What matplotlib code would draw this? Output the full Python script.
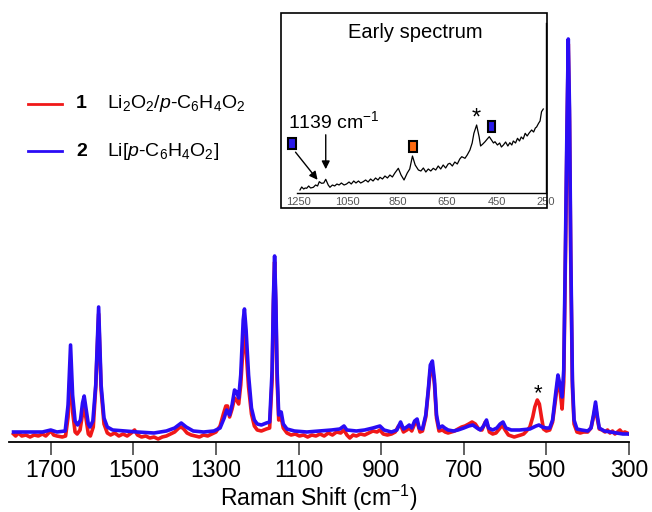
import numpy as np
import matplotlib
matplotlib.use("Agg")
import matplotlib.pyplot as plt
from matplotlib.patches import Rectangle
from matplotlib.lines import Line2D

plt.rcParams['font.family'] = ['Liberation Sans', 'DejaVu Sans']
plt.rcParams['mathtext.fontset'] = 'custom'
plt.rcParams['mathtext.rm'] = 'Liberation Sans'
plt.rcParams['mathtext.it'] = 'Liberation Sans:italic'
plt.rcParams['mathtext.bf'] = 'Liberation Sans:bold'

# ---- main spectra (Raman shift in cm-1, intensity in arb. units) ----
blue_wn = [1790, 1760, 1720, 1700, 1685, 1665, 1658, 1652, 1647, 1641, 1635, 1628,
           1623, 1619, 1614, 1609, 1605, 1598, 1591, 1584, 1578, 1571, 1563, 1550,
           1520, 1490, 1450, 1420, 1400, 1384, 1372, 1355, 1330, 1305, 1290, 1280,
           1274, 1267, 1261, 1255, 1250, 1245, 1240, 1234, 1231, 1227, 1221, 1214,
           1207, 1200, 1190, 1178, 1170, 1164, 1161, 1158, 1155, 1152, 1148, 1142,
           1137, 1128, 1110, 1080, 1050, 1020, 1000, 990, 983, 960, 940, 920,
           903, 893, 875, 862, 853, 846, 838, 832, 826, 819, 813, 808,
           800, 792, 786, 781, 776, 771, 766, 760, 752, 746, 738, 725,
           714, 700, 688, 678, 668, 660, 652, 645, 640, 630, 620, 612,
           605, 598, 585, 565, 540, 525, 518, 510, 500, 492, 485, 478,
           472, 467, 462, 458, 454, 450, 447, 444, 441, 437, 433, 426,
           415, 400, 392, 386, 381, 377, 372, 360, 345, 330, 315, 305, 300]
blue_int = [10, 10, 10, 12, 10, 11, 37, 97, 47, 21, 17, 22,
            39, 46, 32, 18, 15, 21, 57, 135, 57, 24, 15, 12,
            11, 10, 9, 11, 14, 19, 15, 11, 10, 11, 14, 24,
            32, 27, 37, 52, 50, 44, 67, 122, 133, 112, 67, 34,
            22, 18, 17, 19, 20, 72, 142, 186, 142, 72, 27, 30,
            18, 13, 11, 10, 11, 12, 13, 16, 12, 11, 12, 14,
            16, 12, 10, 12, 20, 13, 15, 17, 14, 21, 23, 14,
            13, 27, 52, 77, 81, 62, 27, 14, 16, 14, 12, 11,
            12, 14, 16, 17, 14, 12, 16, 22, 14, 12, 14, 18,
            20, 14, 12, 12, 13, 16, 17, 15, 14, 14, 22, 47,
            67, 57, 45, 72, 192, 322, 403, 332, 192, 62, 22, 13,
            12, 11, 14, 27, 40, 27, 14, 11, 10, 9, 8, 8, 8]

red_wn = [1790, 1785, 1778, 1770, 1760, 1750, 1740, 1730, 1720, 1712, 1705, 1699,
          1693, 1685, 1672, 1664, 1658, 1652, 1647, 1641, 1636, 1629, 1623, 1619,
          1614, 1609, 1604, 1597, 1591, 1584, 1578, 1571, 1563, 1555, 1545, 1535,
          1525, 1515, 1505, 1497, 1490, 1480, 1470, 1460, 1450, 1440, 1430, 1420,
          1410, 1400, 1390, 1384, 1378, 1370, 1360, 1350, 1340, 1330, 1320, 1310,
          1300, 1290, 1282, 1276, 1272, 1267, 1261, 1255, 1250, 1245, 1240, 1234,
          1231, 1227, 1221, 1214, 1207, 1200, 1190, 1178, 1170, 1164, 1161, 1158,
          1155, 1152, 1148, 1142, 1137, 1128, 1118, 1108, 1098, 1088, 1078, 1068,
          1058, 1048, 1038, 1028, 1018, 1008, 998, 990, 983, 976, 968, 960,
          950, 940, 930, 920, 910, 903, 895, 885, 875, 866, 858, 853,
          846, 838, 832, 826, 819, 813, 806, 800, 792, 786, 781, 776,
          771, 766, 760, 752, 745, 738, 730, 722, 714, 705, 697, 688,
          680, 672, 664, 656, 648, 644, 638, 630, 622, 614, 607, 600,
          592, 585, 578, 570, 562, 555, 548, 540, 533, 528, 522, 517,
          512, 507, 500, 492, 485, 478, 472, 467, 462, 458, 454, 450,
          447, 444, 441, 437, 433, 426, 418, 410, 400, 392, 386, 381,
          377, 372, 365, 358, 352, 346, 340, 334, 328, 322, 316, 310, 304, 300]
red_int = [8, 6, 9, 6, 7, 5, 7, 6, 8, 6, 9, 11,
           7, 6, 5, 6, 25, 78, 30, 10, 8, 12, 28, 36,
           22, 8, 6, 15, 55, 128, 52, 18, 9, 7, 9, 6,
           8, 6, 9, 12, 7, 5, 6, 4, 5, 3, 5, 6,
           8, 10, 14, 15, 13, 9, 7, 6, 5, 7, 6, 8,
           10, 16, 28, 36, 36, 25, 33, 44, 42, 38, 57, 98,
           107, 92, 55, 28, 16, 12, 11, 13, 14, 62, 135, 180,
           135, 62, 22, 24, 14, 9, 7, 8, 6, 7, 5, 7,
           6, 8, 6, 9, 7, 10, 9, 12, 7, 4, 7, 6,
           8, 7, 9, 11, 10, 12, 8, 7, 8, 10, 16, 17,
           10, 12, 14, 11, 18, 20, 10, 11, 25, 50, 72, 75,
           58, 24, 11, 12, 10, 9, 10, 11, 13, 15, 16, 18,
           20, 18, 13, 12, 20, 19, 10, 8, 9, 13, 17, 12,
           7, 6, 5, 6, 7, 8, 11, 15, 25, 35, 42, 38,
           25, 13, 11, 12, 20, 42, 62, 52, 33, 60, 180, 310,
           398, 320, 180, 55, 18, 10, 9, 10, 10, 14, 25, 36,
           24, 13, 12, 10, 12, 9, 11, 8, 10, 12, 9, 10, 9, 8]

xticks = [1700, 1500, 1300, 1100, 900, 700, 500, 300]

# ---- inset: early spectrum ----
early_wn = [1243, 1236, 1228, 1222, 1216, 1208, 1200, 1189, 1180, 1172, 1165, 1156,
            1147, 1139, 1129, 1122, 1112, 1103, 1094, 1085, 1076, 1065, 1055, 1045,
            1036, 1026, 1017, 1007, 998, 988, 978, 968, 958, 948, 938, 928,
            920, 910, 900, 890, 880, 870, 860, 846, 835, 823, 810, 800,
            789, 778, 765, 755, 745, 735, 725, 715, 705, 695, 685, 675,
            665, 655, 645, 638, 628, 618, 608, 598, 590, 577, 568, 557,
            548, 541, 530, 520, 514, 505, 496, 487, 479, 470, 462, 456,
            446, 437, 430, 422, 413, 404, 396, 388, 382, 373, 365, 357,
            350, 342, 334, 326, 318, 308, 300, 293, 288, 280, 274, 268, 261]
early_int = [3, 6, 4, 5, 4.7, 7, 5, 5.7, 8, 7, 11.3, 9.7,
             10, 13.7, 8, 5.7, 8, 7, 9, 8, 10, 8, 9, 11,
             9, 12, 10, 12, 10, 11.3, 13, 11, 14, 12, 15, 13,
             15.7, 14, 17, 15, 18, 16, 20, 24.7, 18, 13, 20, 24,
             37, 28, 23, 22, 25, 21, 24, 22, 24.7, 23, 27, 24,
             28, 25, 29, 29.7, 27, 31, 29, 34, 36.3, 34.7, 38, 43,
             50, 59.7, 68, 56.3, 47, 49, 51.3, 54, 56.3, 53, 50, 51.3,
             48, 50, 46, 48, 51, 47, 50.3, 48, 52, 50, 54.7, 52,
             56, 54, 59.7, 57, 60, 63, 61, 65, 66, 69.7, 72, 81.3, 84]
early_ticks = [1250, 1050, 850, 650, 450, 250]

W, H = 652, 512


def fx(px):
    return px / W


def fy(py):
    return 1 - py / H


fig = plt.figure(figsize=(W / 100, H / 100), dpi=100)

ax = fig.add_axes([fx(9), fy(442), fx(629) - fx(9), fy(30) - fy(442)])
ax.plot(red_wn, red_int, color='#f01818', lw=2.6, solid_joinstyle='round')
ax.plot(blue_wn, blue_int, color='#2a0cf5', lw=2.6, solid_joinstyle='round')
ax.set_xlim(1801, 300)
ax.set_ylim(0, 412)
ax.set_xticks(xticks)
ax.set_yticks([])
for s in ['top', 'right', 'left']:
    ax.spines[s].set_visible(False)
ax.spines['bottom'].set_linewidth(1.3)
ax.tick_params(axis='x', direction='out', length=9, width=1.3, color='#555555',
               labelsize=16.5, pad=3)
ax.set_xlabel(r'Raman Shift (cm$^{-1}$)', fontsize=16.5, labelpad=1)
ax.text(521, 48, '*', fontsize=16, ha='center', va='center')

# legend drawn by hand
fig.add_artist(Line2D([fx(28), fx(62)], [fy(104), fy(104)], color='#f01818', lw=2))
fig.add_artist(Line2D([fx(28), fx(62)], [fy(151), fy(151)], color='#2a0cf5', lw=2))
fig.text(fx(76), fy(104), '1', fontsize=14, fontweight='bold', va='center')
fig.text(fx(76), fy(152), '2', fontsize=14, fontweight='bold', va='center')
fig.text(fx(107), fy(104), r'Li$_2$O$_2$/$p$-C$_6$H$_4$O$_2$', fontsize=14, va='center')
fig.text(fx(107), fy(152), r'Li[$p$-C$_6$H$_4$O$_2$]', fontsize=14, va='center')

# inset
fig.add_artist(Rectangle((fx(281), fy(208)), fx(547) - fx(281), fy(13) - fy(208),
                         transform=fig.transFigure, fill=False, ec='black', lw=1.2))
ins = fig.add_axes([fx(297), fy(193), fx(546) - fx(297), fy(23) - fy(193)])
ins.patch.set_alpha(0)
ins.plot(early_wn, early_int, color='black', lw=0.9)
ins.set_xlim(1255, 250)
ins.set_ylim(0, 170)
ins.set_xticks(early_ticks)
ins.set_yticks([])
for s in ['top', 'left']:
    ins.spines[s].set_visible(False)
ins.spines['bottom'].set_linewidth(1.0)
ins.spines['right'].set_linewidth(1.0)
ins.tick_params(axis='x', length=0, labelsize=8, labelcolor='#555555', pad=3)

fig.text(fx(415), fy(33), 'Early spectrum', fontsize=14.5, ha='center', va='center')
ins.text(1290, 72, r'1139 cm$^{-1}$', fontsize=14, ha='left', va='center')
ins.annotate('', xy=(1165, 11), xytext=(1268, 43),
             arrowprops=dict(arrowstyle='-|>', color='black', lw=1.0, mutation_scale=12))
ins.annotate('', xy=(1139, 21), xytext=(1139, 61),
             arrowprops=dict(arrowstyle='-|>', color='black', lw=1.0, mutation_scale=12))
ins.text(530, 74, '*', fontsize=17, ha='center', va='center')

squares = [(1275, 50, '#2a1ae8'), (788, 47, '#ff6a10'), (470, 67, '#2a1ae8')]
for wn, yc, col in squares:
    ins.add_patch(Rectangle((wn + 16, yc - 5.5), -32, 11, facecolor=col,
                            edgecolor='black', lw=1.5, clip_on=False))

fig.savefig('out.png', dpi=100)
